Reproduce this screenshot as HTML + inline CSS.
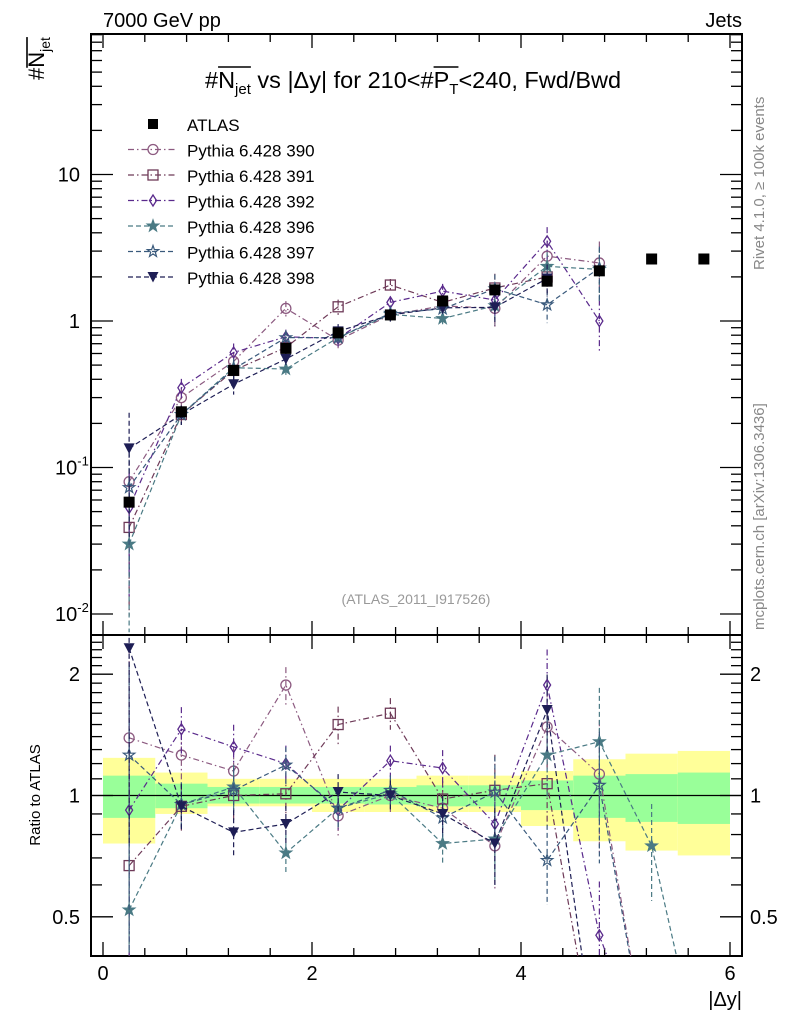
<!DOCTYPE html>
<html><head><meta charset="utf-8"><style>
html,body{margin:0;padding:0;background:#fff;overflow:hidden;width:786px;height:1024px;}
svg{display:block;font-family:"Liberation Sans",sans-serif;}
</style></head><body>
<svg id="c" width="786" height="1024" viewBox="0 0 786 1024" xmlns="http://www.w3.org/2000/svg">
<defs>
<clipPath id="clipM"><rect x="91" y="34" width="651" height="601"/></clipPath>
<clipPath id="clipR"><rect x="91" y="635" width="651" height="321"/></clipPath>
</defs>
<text x="103" y="27" font-size="20">7000 GeV pp</text>
<text x="742" y="27" font-size="20" text-anchor="end">Jets</text>
<g transform="translate(44,80) rotate(-90)"><text id="yt" x="0" y="0" font-size="22">#N<tspan font-size="14" dy="6">jet</tspan></text></g>
<g id="titleg">
<text id="tt" x="205" y="88" font-size="23.5">#N<tspan font-size="15" dy="6">jet</tspan><tspan dy="-6"> vs |Δy| for 210&lt;#P</tspan><tspan font-size="15" dy="6">T</tspan><tspan dy="-6">&lt;240, Fwd/Bwd</tspan></text>
</g>
<text transform="translate(764,270) rotate(-90)" font-size="15" fill="#888">Rivet 4.1.0, ≥ 100k events</text>
<text transform="translate(764,630) rotate(-90)" font-size="15" fill="#888">mcplots.cern.ch [arXiv:1306.3436]</text>
<text x="416" y="604" font-size="14" fill="#999" text-anchor="middle">(ATLAS_2011_I917526)</text>
<text transform="translate(40,795) rotate(-90)" font-size="15" text-anchor="middle">Ratio to ATLAS</text>
<text x="742" y="1006" font-size="20" text-anchor="end">|Δy|</text>
<g id="bands"></g>
<g id="axes"></g>
<g id="series"></g>
<g id="legend"></g>
</svg>
<script>
const NS="http://www.w3.org/2000/svg";
const xs=[0.25,0.75,1.25,1.75,2.25,2.75,3.25,3.75,4.25,4.75,5.25,5.75];
const atlas=[0.058,0.24,0.46,0.65,0.83,1.1,1.37,1.63,1.87,2.2,2.65,2.65];
const m390=[0.080,0.30,0.53,1.22,0.74,1.1,1.27,1.22,2.77,2.49];
const m391=[0.039,0.23,0.46,0.66,1.25,1.76,1.34,1.68,2.0];
const m392=[0.053,0.35,0.61,0.78,0.76,1.34,1.60,1.39,3.5,1.0];
const m396=[0.030,0.23,0.48,0.47,0.77,1.11,1.04,1.27,2.36,2.25];
const m397=[0.073,0.23,0.47,0.77,0.77,1.13,1.21,1.66,1.29,2.3];
const m398=[0.135,0.23,0.37,0.55,0.85,1.1,1.23,1.24,1.95];
const r390=[1.39,1.26,1.15,1.88,0.89,1.0,0.93,0.75,1.48,1.13,0.2];
const r391=[0.67,0.94,1.0,1.01,1.50,1.60,0.98,1.03,1.07,0.2];
const r392=[0.92,1.46,1.32,1.20,0.92,1.22,1.17,0.85,1.88,0.45,0.2];
const r396=[0.52,0.95,1.05,0.72,0.93,1.01,0.76,0.78,1.26,1.36,0.75,0.2];
const r397=[1.26,0.95,1.03,1.19,0.93,1.03,0.88,1.02,0.69,1.06,0.2];
const r398=[2.32,0.94,0.81,0.85,1.02,1.0,0.90,0.76,1.63,0.2];
const errFrac=[0.75,0.15,0.15,0.12,0.12,0.1,0.12,0.25,0.25,0.4,0.3,0.3];
const yellowHi=[1.24,1.14,1.10,1.10,1.10,1.10,1.12,1.12,1.15,1.23,1.27,1.29];
const yellowLo=[0.76,0.90,0.94,0.94,0.91,0.91,0.91,0.91,0.84,0.77,0.73,0.71];
const greenHi=[1.12,1.07,1.05,1.05,1.05,1.05,1.06,1.06,1.09,1.12,1.13,1.14];
const greenLo=[0.88,0.93,0.955,0.955,0.955,0.95,0.94,0.94,0.92,0.88,0.86,0.85];
const X=v=>103+104.5*v;
const YM=v=>321-146.5*Math.log10(v);
const YR=v=>795.5-403*Math.log10(v);
function mk(tag,attrs,parent){const e=document.createElementNS(NS,tag);for(const k in attrs)e.setAttribute(k,attrs[k]);parent.appendChild(e);return e;}
// overlines
(function(){
 const t=document.getElementById('tt');const g=document.getElementById('titleg');
 const s=t.getExtentOfChar(1),e=t.getExtentOfChar(4);
 mk('line',{x1:s.x,x2:e.x+e.width,y1:67,y2:67,stroke:'#000','stroke-width':1.6},g);
 const n=t.textContent;const pi=n.indexOf('P');const p=t.getExtentOfChar(pi),q=t.getExtentOfChar(pi+1);
 mk('line',{x1:p.x,x2:q.x+q.width,y1:67,y2:67,stroke:'#000','stroke-width':1.6},g);
 const y=document.getElementById('yt');const a=y.getExtentOfChar(1),b=y.getExtentOfChar(4);
 mk('line',{x1:a.x,x2:b.x+b.width,y1:-17,y2:-17,stroke:'#000','stroke-width':1.6},y.parentNode);
})();
const gA=document.getElementById('axes'),gB=document.getElementById('bands'),gS=document.getElementById('series'),gL=document.getElementById('legend');
for(let i=0;i<12;i++){
 const x0=X(i*0.5),x1=X(i*0.5+0.5);
 let r=mk('rect',{x:x0,y:YR(yellowHi[i]),width:x1-x0,height:YR(yellowLo[i])-YR(yellowHi[i]),fill:'#ffff99'},gB);
 
 
 r=mk('rect',{x:x0,y:YR(greenHi[i]),width:x1-x0,height:YR(greenLo[i])-YR(greenHi[i]),fill:'#99ff99'},gB);
 
 
}
const st={stroke:'#000','stroke-width':2,fill:'none'};
let f=mk('rect',Object.assign({x:91,y:34,width:651,height:601},st),gA);

f=mk('rect',Object.assign({x:91,y:635,width:651,height:321},st),gA);

let one=mk('line',{x1:91,x2:742,y1:YR(1),y2:YR(1),stroke:'#000','stroke-width':1.3},gA);

for(let v=0;v<=6.001;v+=0.4){
 const big=Math.abs(v-Math.round(v/2)*2)<0.01;const L=big?14:8;const x=X(v);
 mk('line',{x1:x,x2:x,y1:956,y2:956-L,stroke:'#000','stroke-width':1.3},gA);
 mk('line',{x1:x,x2:x,y1:635,y2:635-L,stroke:'#000','stroke-width':1.3},gA);
 mk('line',{x1:x,x2:x,y1:635,y2:635+L,stroke:'#000','stroke-width':1.3},gA);
 mk('line',{x1:x,x2:x,y1:34,y2:34+L,stroke:'#000','stroke-width':1.3},gA);
}
for(const v of [0,2,4,6]){const t=mk('text',{x:X(v),y:980,'font-size':20,'text-anchor':'middle'},gA);t.textContent=v;}
for(let e=-2;e<=1;e++){for(let k=1;k<=9;k++){const v=k*Math.pow(10,e);const y=YM(v);if(y<34||y>635)continue;const L=k==1?22:11;
 mk('line',{x1:91,x2:91+L,y1:y,y2:y,stroke:'#000','stroke-width':1.3},gA);mk('line',{x1:742,x2:742-L,y1:y,y2:y,stroke:'#000','stroke-width':1.3},gA);}}
for(const [v,s] of [[10,'10'],[1,'1']]){const t=mk('text',{x:80,y:YM(v)+7,'font-size':20,'text-anchor':'end'},gA);t.textContent=s;}
for(const e of [-1,-2]){const t=mk('text',{x:55,y:YM(Math.pow(10,e))+7,'font-size':20},gA);t.innerHTML='10<tspan font-size="13" dy="-9">'+e+'</tspan>';}
for(const v of [0.5,0.6,0.7,0.8,0.9,1,1.1,1.2,1.3,1.4,1.5,1.6,1.7,1.8,1.9,2,2.1,2.2,2.3,2.4,2.5]){const y=YR(v);if(y<635||y>956)continue;const L=(v==0.5||v==1||v==2)?22:11;
 mk('line',{x1:91,x2:91+L,y1:y,y2:y,stroke:'#000','stroke-width':1.3},gA);mk('line',{x1:742,x2:742-L,y1:y,y2:y,stroke:'#000','stroke-width':1.3},gA);}
for(const v of [0.5,1,2]){for(const [x,a] of [[80,'end'],[750,'start']]){const t=mk('text',{x:x,y:YR(v)+7,'font-size':20,'text-anchor':a},gA);t.textContent=v;}}
function marker(type,x,y,col,g){
 if(type=='sq')return mk('rect',{x:x-5.5,y:y-5.5,width:11,height:11,fill:'#000'},g);
 if(type=='circ')return mk('circle',{cx:x,cy:y,r:5,fill:'none',stroke:col,'stroke-width':1.3},g);
 if(type=='osq')return mk('rect',{x:x-5,y:y-5,width:10,height:10,fill:'none',stroke:col,'stroke-width':1.3},g);
 if(type=='dia')return mk('polygon',{points:`${x},${y-5.5} ${x+3.5},${y} ${x},${y+5.5} ${x-3.5},${y}`,fill:'none',stroke:col,'stroke-width':1.3},g);
 if(type=='star'||type=='ostar'){let p=[];for(let i=0;i<10;i++){const a=-Math.PI/2+i*Math.PI/5,r=i%2?2.4:6;p.push((x+r*Math.cos(a)).toFixed(1)+','+(y+r*Math.sin(a)).toFixed(1));}
  return mk('polygon',{points:p.join(' '),fill:type=='star'?col:'none',stroke:col,'stroke-width':1.2},g);}
 if(type=='tri')return mk('polygon',{points:`${x-5.5},${y-5} ${x+5.5},${y-5} ${x},${y+5.5}`,fill:col},g);
}
const series=[
 {name:'Pythia 6.428 390',m:m390,r:r390,col:'#8c5a80',mk:'circ',dash:'6,3,1.5,3'},
 {name:'Pythia 6.428 391',m:m391,r:r391,col:'#6e3a58',mk:'osq',dash:'6,3,1.5,3'},
 {name:'Pythia 6.428 392',m:m392,r:r392,col:'#5a2a8c',mk:'dia',dash:'6,3,1.5,3'},
 {name:'Pythia 6.428 396',m:m396,r:r396,col:'#4a7a84',mk:'star',dash:'5,3'},
 {name:'Pythia 6.428 397',m:m397,r:r397,col:'#3a5a7c',mk:'ostar',dash:'5,3'},
 {name:'Pythia 6.428 398',m:m398,r:r398,col:'#1e1e55',mk:'tri',dash:'5,3'}
];
const gm=mk('g',{'clip-path':'url(#clipM)'},gS),gr=mk('g',{'clip-path':'url(#clipR)'},gS);
series.forEach((s,si)=>{
 const g1=mk('g',{},gm);
 mk('polyline',{points:s.m.map((v,i)=>X(xs[i])+','+YM(v)).join(' '),fill:'none',stroke:s.col,'stroke-width':1.2,'stroke-dasharray':s.dash},g1);
 s.m.forEach((v,i)=>{const e=errFrac[i];mk('line',{x1:X(xs[i]),x2:X(xs[i]),y1:YM(v*(1+e)),y2:YM(Math.max(v*(1-e),0.005)),stroke:s.col,'stroke-width':1.2,'stroke-dasharray':s.dash},g1);
  const m=marker(s.mk,X(xs[i]),YM(v),s.col,g1);});
 const g2=mk('g',{},gr);
 mk('polyline',{points:s.r.map((v,i)=>X(xs[i])+','+YR(v)).join(' '),fill:'none',stroke:s.col,'stroke-width':1.2,'stroke-dasharray':s.dash},g2);
 s.r.forEach((v,i)=>{if(v<0.3)return;const e=errFrac[i];mk('line',{x1:X(xs[i]),x2:X(xs[i]),y1:YR(v*(1+e*0.9)),y2:YR(Math.max(v*(1-e*0.9),0.2)),stroke:s.col,'stroke-width':1.2,'stroke-dasharray':s.dash},g2);
  const m=marker(s.mk,X(xs[i]),YR(v),s.col,g2);});
});
const ga=mk('g',{},gS);
atlas.forEach((v,i)=>{const m=marker('sq',X(xs[i]),YM(v),'#000',ga);});
const lx=128,ly=124,dy=25.5;
let le=mk('g',{},gL);
mk('rect',{x:148,y:ly-5,width:10,height:10,fill:'#000'},le);
let t=mk('text',{x:187,y:ly+7,'font-size':17},le);t.textContent='ATLAS';
series.forEach((s,i)=>{const y=ly+dy*(i+1);const e=mk('g',{},gL);
 
 
 mk('line',{x1:lx,x2:176,y1:y,y2:y,stroke:s.col,'stroke-width':1.2,'stroke-dasharray':s.dash},e);
 marker(s.mk,153,y,s.col,e);
 const tt=mk('text',{x:187,y:y+7,'font-size':17},e);tt.textContent=s.name;});
</script>
</body></html>
